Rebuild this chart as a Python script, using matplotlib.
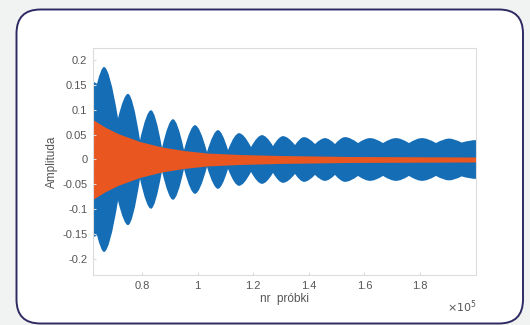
import matplotlib
matplotlib.use("Agg")
import matplotlib.pyplot as plt
from matplotlib.patches import FancyBboxPatch, PathPatch
from matplotlib.path import Path
import numpy as np

plt.rcParams["font.family"] = ["Liberation Sans", "DejaVu Sans"]

# upper envelope of the blue signal: alternating troughs / peaks (x in samples)
# the lower envelope is its mirror image
blue_x = [62370, 63810, 66330, 71370, 74960, 79280, 83240, 87190,
          91150, 95110, 99060, 103380, 107340, 110940, 114890, 119210,
          123170, 127120, 130720, 135040, 138270, 142230, 145830,
          149420, 153020, 157700, 162010, 166690, 171370, 176040,
          180720, 185760, 190430, 194960, 200140]
blue_up = [0.156, 0.152, 0.186, 0.083, 0.132, 0.039, 0.099, 0.023,
           0.081, 0.019, 0.069, 0.015, 0.059, 0.019, 0.053, 0.025,
           0.049, 0.027, 0.047, 0.029, 0.045, 0.031, 0.043,
           0.031, 0.045, 0.033, 0.043, 0.033, 0.043, 0.033,
           0.043, 0.033, 0.042, 0.034, 0.039]

# envelope of the orange (decaying) signal
orange_x = [62370, 66700, 71400, 79300, 87200, 95100, 103400, 115300, 129600, 154800, 200140]
orange_up = [0.080, 0.065, 0.052, 0.036, 0.025, 0.018, 0.013, 0.010, 0.008, 0.006, 0.005]

xticks = [80000, 100000, 120000, 140000, 160000, 180000]
xtick_labels = ["0.8", "1", "1.2", "1.4", "1.6", "1.8"]
yticks = [-0.2, -0.15, -0.1, -0.05, 0, 0.05, 0.1, 0.15, 0.2]
ytick_labels = ["-0.2", "-0.15", "-0.1", "-0.05", "0", "0.05", "0.1", "0.15", "0.2"]


def envelope_path(xs, ys):
    # rounded peaks, sharp troughs (quadratic bezier segments)
    def curve(px, py):
        verts = [(px[0], py[0])]
        codes = [Path.MOVETO]
        for i in range(1, len(px)):
            x0, y0 = px[i - 1], py[i - 1]
            x1, y1 = px[i], py[i]
            if abs(y1) > abs(y0):  # going up to a peak
                c = (x0 + 0.6 * (x1 - x0), y1)
            else:  # coming down to a trough
                c = (x0 + 0.4 * (x1 - x0), y0)
            verts += [c, (x1, y1)]
            codes += [Path.CURVE3, Path.CURVE3]
        return verts, codes

    up_v, up_c = curve(xs, ys)
    lo_v, lo_c = curve(xs[::-1], [-v for v in ys[::-1]])
    verts = up_v + [lo_v[0]] + lo_v[1:] + [up_v[0]]
    codes = up_c + [Path.LINETO] + lo_c[1:] + [Path.CLOSEPOLY]
    return Path(verts, codes)


W, H = 5.3, 3.25
fig = plt.figure(figsize=(W, H), dpi=100)
fig.patch.set_facecolor("#f1f2f2")

# rounded card frame (in inches)
card = FancyBboxPatch((0.165, 0.015), 5.065, 3.14,
                      boxstyle="round,pad=0,rounding_size=0.24",
                      transform=fig.dpi_scale_trans,
                      facecolor="white", edgecolor="#2e2b63", linewidth=1.4,
                      zorder=-10)
fig.patches.append(card)

ax = fig.add_axes([93 / 530, 1 - 275 / 325, 383 / 530, 227 / 325])
ax.set_zorder(5)
ax.set_facecolor("white")

ax.add_patch(PathPatch(envelope_path(blue_x, blue_up), facecolor="#156db6",
                       edgecolor="none"))
ox = np.array(orange_x)
ou = np.array(orange_up)
ax.fill_between(ox, -ou, ou, color="#e9561f", linewidth=0)

ax.set_xlim(62370, 200140)
ax.set_ylim(-0.2322, 0.2241)
ax.set_xticks(xticks)
ax.set_xticklabels(xtick_labels)
ax.set_yticks(yticks)
ax.set_yticklabels(ytick_labels)

for s in ax.spines.values():
    s.set_color("#dcdcdc")
    s.set_linewidth(0.8)
ax.tick_params(direction="in", length=2, color="#dcdcdc", labelcolor="#555555",
               labelsize=8, pad=4)

ax.set_xlabel("nr  próbki", fontsize=8.5, color="#555555", labelpad=2)
ax.set_ylabel("Amplituda", fontsize=8.5, color="#555555", labelpad=3)

fig.text(462 / 530, 1 - 307 / 325, r"$\times10^{5}$", fontsize=8,
         color="#555555", ha="center", va="center")

fig.savefig("out.png", dpi=100, facecolor=fig.get_facecolor())
